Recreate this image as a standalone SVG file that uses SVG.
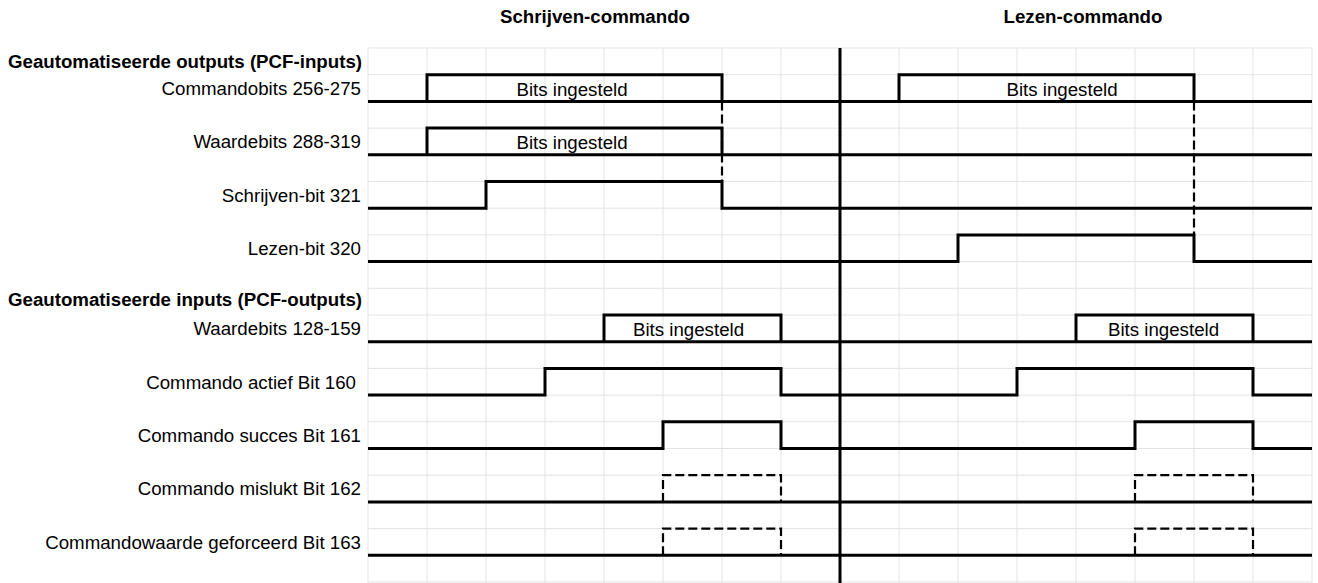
<svg xmlns="http://www.w3.org/2000/svg" width="1318" height="583" viewBox="0 0 1318 583">
<style>
text{font-family:"Liberation Sans",Arial,Helvetica,sans-serif;font-size:18.7px;fill:#000}
.b{font-weight:bold}
.l{text-anchor:end}
.m{text-anchor:middle}
.g{stroke:#e3e3e3;stroke-width:1;fill:none}
.s{stroke:#000;stroke-width:3;fill:none;stroke-linejoin:miter}
.d{stroke:#000;stroke-width:2.2;fill:none;stroke-dasharray:9 4}
.c{stroke:#000;stroke-width:3}
</style>
<rect width="1318" height="583" fill="#fff"/>
<g id="grid" class="g">
<path d="M368,48V583M427,48V583M486,48V583M545,48V583M604,48V583M663,48V583M722,48V583M781,48V583M899,48V583M958,48V583M1017,48V583M1076,48V583M1135,48V583M1194,48V583M1253,48V583M1312,48V583"/>
<path d="M368,48H1312M368,74.7H1312M368,101.4H1312M368,128.1H1312M368,154.8H1312M368,181.5H1312M368,208.2H1312M368,234.9H1312M368,261.6H1312M368,288.3H1312M368,315H1312M368,341.7H1312M368,368.4H1312M368,395.1H1312M368,421.8H1312M368,448.5H1312M368,475.2H1312M368,501.9H1312M368,528.6H1312M368,555.3H1312M368,582H1312"/>
</g>
<g id="titles">
<text class="b m" x="595" y="23">Schrijven-commando</text>
<text class="b m" x="1083" y="23">Lezen-commando</text>
<text class="b l" x="362" y="68">Geautomatiseerde outputs (PCF-inputs)</text>
<text class="b l" x="362" y="306">Geautomatiseerde inputs (PCF-outputs)</text>
</g>
<g id="connectors">
<path class="d" d="M722,101.4V181.5"/>
<path class="d" d="M1194,101.4V234.9"/>
</g>
<g id="sig-commandobits">
<text class="l" x="361" y="95">Commandobits 256-275</text>
<path class="s" d="M368,101.4H1312"/>
<path class="s" d="M427,101.4V74.7H722V101.4"/>
<path class="s" d="M899,101.4V74.7H1194V101.4"/>
<text class="m" x="572" y="96">Bits ingesteld</text>
<text class="m" x="1062" y="96">Bits ingesteld</text>
</g>
<g id="sig-waardebits-out">
<text class="l" x="361" y="148.3">Waardebits 288-319</text>
<path class="s" d="M368,154.8H1312"/>
<path class="s" d="M427,154.8V128.1H722V154.8"/>
<text class="m" x="572" y="148.5">Bits ingesteld</text>
</g>
<g id="sig-schrijven">
<text class="l" x="361" y="201.7">Schrijven-bit 321</text>
<path class="s" d="M368,208.2H486V181.5H722V208.2H1312"/>
</g>
<g id="sig-lezen">
<text class="l" x="361" y="255.1">Lezen-bit 320</text>
<path class="s" d="M368,261.6H958V234.9H1194V261.6H1312"/>
</g>
<g id="sig-waardebits-in">
<text class="l" x="361" y="335.2">Waardebits 128-159</text>
<path class="s" d="M368,341.7H1312"/>
<path class="s" d="M604,341.7V315H781V341.7"/>
<path class="s" d="M1076,341.7V315H1253V341.7"/>
<text class="m" x="688.5" y="335.5">Bits ingesteld</text>
<text class="m" x="1163.5" y="335.5">Bits ingesteld</text>
</g>
<g id="sig-actief">
<text class="l" x="356" y="388.6">Commando actief Bit 160</text>
<path class="s" d="M368,395.1H545V368.4H781V395.1H1017V368.4H1253V395.1H1312"/>
</g>
<g id="sig-succes">
<text class="l" x="361" y="442">Commando succes Bit 161</text>
<path class="s" d="M368,448.5H663V421.8H781V448.5H1135V421.8H1253V448.5H1312"/>
</g>
<g id="sig-mislukt">
<text class="l" x="361" y="495.4">Commando mislukt Bit 162</text>
<path class="s" d="M368,501.9H1312"/>
<path class="d" d="M663,501.9V475.2H781V501.9"/>
<path class="d" d="M1135,501.9V475.2H1253V501.9"/>
</g>
<g id="sig-geforceerd">
<text class="l" x="361" y="548.8">Commandowaarde geforceerd Bit 163</text>
<path class="s" d="M368,555.3H1312"/>
<path class="d" d="M663,555.3V528.6H781V555.3"/>
<path class="d" d="M1135,555.3V528.6H1253V555.3"/>
</g>
<line id="divider" class="c" x1="840" y1="48" x2="840" y2="583"/>
</svg>
